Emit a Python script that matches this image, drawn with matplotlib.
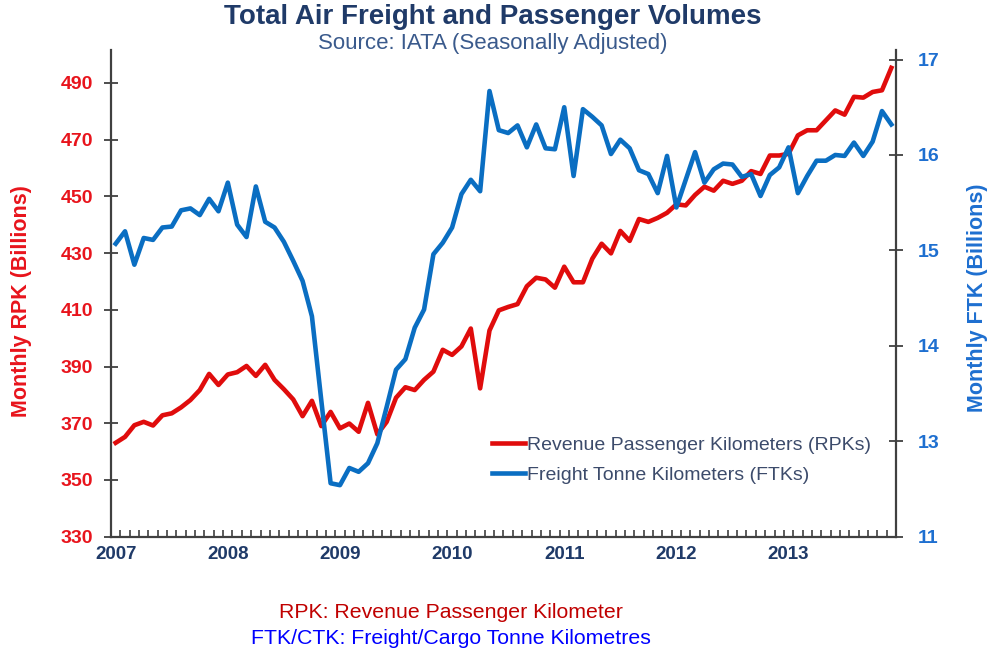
import matplotlib
matplotlib.use("Agg")
import matplotlib.pyplot as plt
import numpy as np

plt.rcParams['font.family'] = ['Liberation Sans', 'DejaVu Sans']

# ---- data (monthly, Jan 2007 - Dec 2013) ----
years = ['2007', '2008', '2009', '2010', '2011', '2012', '2013']

rpk = [363.1, 365.2, 369.3, 370.5, 369.2, 372.8, 373.5, 375.6, 378.2, 381.7, 387.4, 383.5,
       387.2, 388.0, 390.2, 386.7, 390.6, 385.3, 382.0, 378.4, 372.5, 377.9, 369.0, 374.0,
       368.2, 369.9, 367.0, 377.2, 366.1, 370.5, 379.0, 382.7, 381.7, 385.3, 388.2, 395.9,
       394.1, 397.1, 403.4, 382.3, 402.7, 409.8, 411.0, 412.0, 418.3, 421.3, 420.7, 417.8,
       425.2, 419.7, 419.7, 428.0, 433.3, 429.9, 437.8, 434.3, 442.0, 441.0, 442.4, 444.2,
       447.2, 446.8, 450.5, 453.4, 452.0, 455.5, 454.4, 455.5, 458.9, 457.9, 464.4, 464.4,
       465.0, 471.5, 473.3, 473.3, 476.8, 480.3, 478.8, 485.1, 484.8, 486.8, 487.4, 495.3]

# FTK on the drawn (linear) scale of the right axis
ftk = [15.07, 15.20, 14.85, 15.13, 15.11, 15.24, 15.25, 15.42, 15.44, 15.37, 15.54, 15.41,
       15.71, 15.27, 15.14, 15.67, 15.30, 15.24, 15.09, 14.89, 14.68, 14.31, 13.43, 12.56,
       12.54, 12.72, 12.68, 12.77, 12.98, 13.36, 13.75, 13.86, 14.19, 14.38, 14.96, 15.08,
       15.24, 15.59, 15.74, 15.62, 16.67, 16.26, 16.23, 16.31, 16.08, 16.32, 16.07, 16.06,
       16.50, 15.78, 16.48, 16.40, 16.31, 16.01, 16.16, 16.07, 15.84, 15.80, 15.60, 15.99,
       15.45, 15.74, 16.03, 15.71, 15.85, 15.91, 15.90, 15.77, 15.80, 15.57, 15.79, 15.87,
       16.08, 15.60, 15.78, 15.94, 15.94, 16.00, 15.99, 16.13, 15.99, 16.14, 16.46, 16.32]

left_ticks = [330, 350, 370, 390, 410, 430, 450, 470, 490]
right_ticks = [12, 13, 14, 15, 16, 17]
right_tick_labels = ['11', '13', '14', '15', '16', '17']

labels = ['Revenue Passenger Kilometers (RPKs)', 'Freight Tonne Kilometers (FTKs)']

# ---- styling ----
RED = '#E00C0C'
BLUE = '#0A6EC2'
RED_TXT = '#E8141C'
BLUE_TXT = '#1E6FD0'
NAVY = '#1F3A68'
AXC = '#404040'

W, H = 995, 655
fig = plt.figure(figsize=(W / 100, H / 100), dpi=100)
ax = fig.add_axes([111 / W, 1 - 536.7 / H, (896 - 111) / W, (536.7 - 50) / H])
ax2 = ax.twinx()

x = np.arange(len(rpk))
l1, = ax.plot(x, rpk, color=RED, lw=3.3, solid_joinstyle='round', zorder=2)
l2, = ax2.plot(x, ftk, color=BLUE, lw=3.3, solid_joinstyle='round', zorder=3)

ax.set_xlim(-0.5, len(rpk) - 0.5)
ax.set_ylim(330, 501.6)
ax2.set_ylim(12, 17.1)

for a in (ax, ax2):
    for s in a.spines.values():
        s.set_visible(False)
ax.spines['left'].set_visible(True)
ax.spines['bottom'].set_visible(True)
ax2.spines['right'].set_visible(True)
for s in (ax.spines['left'], ax.spines['bottom'], ax2.spines['right']):
    s.set_color(AXC)
    s.set_linewidth(1.6)

ax.set_yticks(left_ticks)
ax.set_yticklabels([str(v) for v in left_ticks])
ax.tick_params(axis='y', direction='inout', length=10, width=1.3, color=AXC,
               pad=8, labelsize=14, labelcolor=RED_TXT)
for t in ax.get_yticklabels():
    t.set_fontweight('bold')

ax2.set_yticks(right_ticks)
ax2.set_yticklabels(right_tick_labels)
ax2.tick_params(axis='y', direction='inout', length=10, width=1.3, color=AXC,
                pad=11, labelsize=14, labelcolor=BLUE_TXT)
for t in ax2.get_yticklabels():
    t.set_fontweight('bold')

ax.set_xticks(np.arange(0, len(rpk), 12))
ax.set_xticklabels(years)
ax.set_xticks(np.arange(0.5, len(rpk) - 0.5, 1), minor=True)
ax.tick_params(axis='x', which='major', length=0, pad=7, labelsize=13.5, labelcolor=NAVY)
ax.tick_params(axis='x', which='minor', direction='in', length=5, width=1.2, color=AXC)
for t in ax.get_xticklabels():
    t.set_fontweight('bold')

fig.text(22 / W, 1 - 301 / H, 'Monthly RPK (Billions)', rotation=90, ha='center', va='center',
         fontsize=15.5, fontweight='bold', color=RED_TXT)
fig.text(978 / W, 1 - 298 / H, 'Monthly FTK (Billions)', rotation=90, ha='center', va='center',
         fontsize=15.5, fontweight='bold', color=BLUE_TXT)

fig.text(493 / W, 1 - 16.5 / H, 'Total Air Freight and Passenger Volumes', ha='center', va='center',
         fontsize=20, fontweight='bold', color=NAVY)
fig.text(493 / W, 1 - 44 / H, 'Source: IATA (Seasonally Adjusted)', ha='center', va='center',
         fontsize=16, color='#3A5A8C')

fig.text(451 / W, 1 - 613 / H, 'RPK: Revenue Passenger Kilometer', ha='center', va='center',
         fontsize=15.3, color='#C00000')
fig.text(451 / W, 1 - 638 / H, 'FTK/CTK: Freight/Cargo Tonne Kilometres', ha='center', va='center',
         fontsize=15.3, color='#0000FF')

leg = ax2.legend([l1, l2], labels, loc='upper left',
                 bbox_to_anchor=(492 / W, 1 - 436 / H), bbox_transform=fig.transFigure,
                 frameon=False, fontsize=14, handlelength=1.7, handletextpad=0.1,
                 borderpad=0, borderaxespad=0, labelspacing=0.66)
for t in leg.get_texts():
    t.set_color('#3C4B6B')

fig.savefig('out.png', dpi=100)
